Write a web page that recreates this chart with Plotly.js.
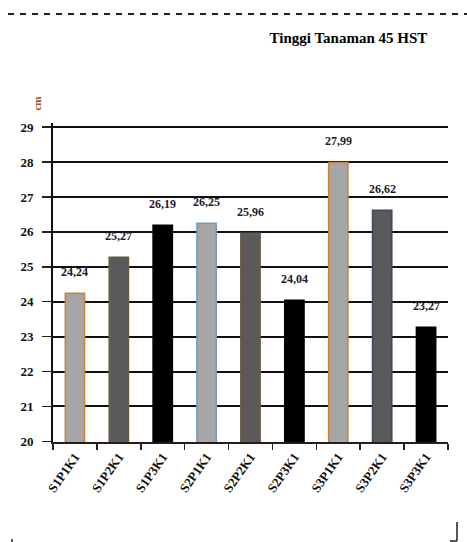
<!DOCTYPE html>
<html>
<head>
<meta charset="utf-8">
<script src="https://cdn.plot.ly/plotly-3.0.1.min.js"></script>
<style>
  html, body { margin: 0; padding: 0; background: #fff; }
  #wrap { position: relative; width: 467px; height: 542px; }
  #chart { position: absolute; left: 0; top: 0; width: 467px; height: 542px; }
  #frame { position: absolute; left: 0; top: 0; pointer-events: none; }
</style>
</head>
<body>
<div id="wrap">
  <div id="chart"></div>
  <svg id="frame" width="467" height="542">
    <line x1="8" y1="14" x2="467" y2="14" stroke="#222" stroke-width="2" stroke-dasharray="6,6"/>
    <line x1="457" y1="522" x2="457" y2="541" stroke="#222" stroke-width="1.5"/>
    <line x1="450" y1="541" x2="457" y2="541" stroke="#222" stroke-width="1.5"/>
    <line x1="12" y1="539" x2="12" y2="542" stroke="#222" stroke-width="1.5"/>
  </svg>
</div>
<script>
const categories = ["S1P1K1", "S1P2K1", "S1P3K1", "S2P1K1", "S2P2K1", "S2P3K1", "S3P1K1", "S3P2K1", "S3P3K1"];
const values = [24.24, 25.27, 26.19, 26.25, 25.96, 24.04, 27.99, 26.62, 23.27];
const valueLabels = ["24,24", "25,27", "26,19", "26,25", "25,96", "24,04", "27,99", "26,62", "23,27"];
const tickValues = [20, 21, 22, 23, 24, 25, 26, 27, 28, 29];
const tickLabels = ["20", "21", "22", "23", "24", "25", "26", "27", "28", "29"];

const barColors = ["#a6a6a6", "#5a5a5a", "#000000", "#a6a6a6", "#5a5a5a", "#000000", "#a6a6a6", "#5a5a5a", "#000000"];
const barEdges = ["#c98236", "#6b5a3c", "#000000", "#6a9cc4", "#6b5a3c", "#000000", "#c98236", "#3c4a6a", "#000000"];

const font = "Liberation Serif, DejaVu Serif, serif";

const trace = {
  type: "bar",
  x: categories,
  y: values,
  marker: { color: barColors, line: { color: barEdges, width: 1.5 } },
  hoverinfo: "skip"
};

const annotations = categories.map((c, i) => ({
  x: c, y: values[i], xref: "x", yref: "y",
  text: valueLabels[i], showarrow: false,
  yanchor: "middle", yshift: 21,
  font: { family: font, size: 12, color: "#1a1a2a", weight: "bold" }
}));
annotations.push({
  xref: "paper", yref: "paper", x: -0.06, y: 1.09,
  text: "cm", textangle: -90, showarrow: false,
  font: { family: font, size: 11, color: "#8a5a20", weight: "bold" }
});

const layout = {
  width: 467, height: 542,
  margin: { l: 53, r: 19, t: 123, b: 100 },
  paper_bgcolor: "#ffffff",
  plot_bgcolor: "#ffffff",
  showlegend: false,
  bargap: 0.56,
  title: {
    text: "Tinggi Tanaman 45 HST",
    xref: "container", x: 0.915, xanchor: "right",
    yref: "container", y: 0.93, yanchor: "middle",
    font: { family: font, size: 15, color: "#000", weight: "bold" }
  },
  xaxis: {
    type: "category",
    showline: true, linecolor: "#2a1a1a", linewidth: 2,
    ticks: "outside", ticklen: 6, tickwidth: 1.5, tickcolor: "#222",
    tickson: "boundaries",
    tickangle: -55,
    tickfont: { family: font, size: 13, color: "#111", weight: "bold" },
    showgrid: false
  },
  yaxis: {
    range: [19.98, 29.12],
    tickvals: tickValues, ticktext: tickLabels,
    showline: true, linecolor: "#111", linewidth: 2,
    ticks: "outside", ticklen: 9, tickwidth: 1.5, tickcolor: "#222",
    ticklabelstandoff: 6,
    showgrid: true, gridcolor: "#111", gridwidth: 2,
    zeroline: false,
    tickfont: { family: font, size: 13, color: "#111", weight: "bold" }
  },
  annotations: annotations
};

Plotly.newPlot("chart", [trace], layout, { displayModeBar: false, staticPlot: true });
</script>
</body>
</html>
